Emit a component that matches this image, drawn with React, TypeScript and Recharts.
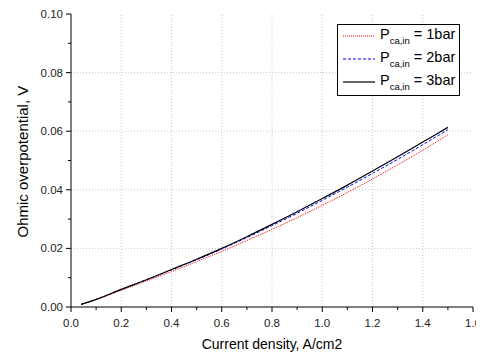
import React from "react";
import { LineChart, Line, XAxis, YAxis, ReferenceLine } from "recharts";

const currentDensity = [0.04, 0.1, 0.2, 0.3, 0.4, 0.5, 0.6, 0.7, 0.8, 0.9, 1.0, 1.1, 1.2, 1.3, 1.4, 1.5];
const p1bar = [0.0009, 0.0025, 0.0057, 0.0089, 0.0121, 0.0155, 0.019, 0.0227, 0.0265, 0.0305, 0.0347, 0.0391, 0.0437, 0.0485, 0.0535, 0.0588];
const p2bar = [0.0009, 0.0026, 0.006, 0.0093, 0.0127, 0.0161, 0.0198, 0.0237, 0.0278, 0.032, 0.0364, 0.0409, 0.0456, 0.0504, 0.0554, 0.0605];
const p3bar = [0.0009, 0.0026, 0.006, 0.0093, 0.0128, 0.0163, 0.02, 0.024, 0.0282, 0.0325, 0.037, 0.0416, 0.0464, 0.0513, 0.0563, 0.0613];

const xTicks = [0, 0.1, 0.2, 0.3, 0.4, 0.5, 0.6, 0.7, 0.8, 0.9, 1.0, 1.1, 1.2, 1.3, 1.4, 1.5, 1.6];
const xMajor = [0.2, 0.4, 0.6, 0.8, 1.0, 1.2, 1.4];
const yTicks = [0, 0.01, 0.02, 0.03, 0.04, 0.05, 0.06, 0.07, 0.08, 0.09, 0.1];
const yMajor = [0.02, 0.04, 0.06, 0.08];

const series = [
  { key: "p1", label: "1bar", color: "#ff0000", dash: "1 1", width: 1 },
  { key: "p2", label: "2bar", color: "#0000ff", dash: "3 2", width: 1 },
  { key: "p3", label: "3bar", color: "#000000", dash: undefined, width: 1.2 },
];

const data = currentDensity.map((x, i) => ({ x, p1: p1bar[i], p2: p2bar[i], p3: p3bar[i] }));

const font = "Arial, 'Liberation Sans', sans-serif";

const isMajor = (v: number, step: number) => Math.abs(Math.round(v / step) * step - v) < 1e-6;

function XTick(props: any) {
  const { x, y, payload } = props;
  const major = isMajor(payload.value, 0.2);
  return (
    <g>
      <line x1={x} x2={x} y1={y} y2={y + (major ? 5 : 3)} stroke="#000" />
      {major && (
        <text x={x} y={y + 20} textAnchor="middle" fontSize={11.5} fill="#222" fontFamily={font}>
          {payload.value.toFixed(1)}
        </text>
      )}
    </g>
  );
}

function YTick(props: any) {
  const { x, y, payload } = props;
  const major = isMajor(payload.value, 0.02);
  return (
    <g>
      <line x1={x} x2={x - (major ? 5 : 3)} y1={y} y2={y} stroke="#000" />
      {major && (
        <text x={x - 8} y={y + 4} textAnchor="end" fontSize={11.5} fill="#222" fontFamily={font}>
          {payload.value.toFixed(2)}
        </text>
      )}
    </g>
  );
}

function TopTick(props: any) {
  const { x, y, payload } = props;
  const major = isMajor(payload.value, 0.2);
  return <line x1={x} x2={x} y1={y} y2={y + (major ? 5 : 3)} stroke="#000" />;
}

function RightTick(props: any) {
  const { x, y, payload } = props;
  const major = isMajor(payload.value, 0.02);
  return <line x1={x} x2={x - (major ? 5 : 3)} y1={y} y2={y} stroke="#000" />;
}

function LegendBox() {
  return (
    <div
      style={{
        position: "absolute",
        left: 329,
        top: 16,
        width: 121,
        height: 70,
        border: "1px solid #000",
        background: "#fff",
        fontFamily: font,
        color: "#000",
      }}
    >
      {series.map((s, i) => (
        <div key={s.key} style={{ position: "absolute", left: 4, top: 1 + i * 23, height: 20, display: "flex", alignItems: "center" }}>
          <svg width={34} height={10}>
            <line x1={1} x2={33} y1={5} y2={5} stroke={s.color} strokeWidth={s.width} strokeDasharray={s.dash} />
          </svg>
          <span style={{ marginLeft: 4, fontSize: 14.5, whiteSpace: "nowrap" }}>
            P<sub style={{ fontSize: 9.5, verticalAlign: -5 }}>ca,in</sub> = {s.label}
          </span>
        </div>
      ))}
    </div>
  );
}

export default function App() {
  return (
    <div style={{ position: "relative", width: 476, height: 350 }}>
      <LineChart width={476} height={350} data={data} margin={{ top: 6, right: 11, bottom: 0, left: 0 }}>
        {xMajor.map((v) => (
          <ReferenceLine key={"gx" + v} xAxisId="bottom" yAxisId="left" x={v} stroke="#c8c8c8" strokeDasharray="1 2" />
        ))}
        {yMajor.map((v) => (
          <ReferenceLine key={"gy" + v} xAxisId="bottom" yAxisId="left" y={v} stroke="#c8c8c8" strokeDasharray="1 2" />
        ))}
        <XAxis
          xAxisId="bottom"
          dataKey="x"
          type="number"
          domain={[0, 1.6]}
          ticks={xTicks}
          interval={0}
          tickLine={false}
          tickSize={0}
          tickMargin={0}
          tick={<XTick />}
          height={51}
          axisLine={{ stroke: "#000" }}
          label={{ value: "Current density, A/cm2", position: "insideBottom", offset: 9, fontSize: 14, fill: "#000", fontFamily: font }}
        />
        <XAxis
          xAxisId="top"
          orientation="top"
          dataKey="x"
          type="number"
          domain={[0, 1.6]}
          ticks={xTicks}
          interval={0}
          tickLine={false}
          tickSize={0}
          tickMargin={0}
          tick={<TopTick />}
          height={0}
          axisLine={{ stroke: "#000" }}
        />
        <YAxis
          yAxisId="left"
          type="number"
          domain={[0, 0.1]}
          ticks={yTicks}
          interval={0}
          tickLine={false}
          tickSize={0}
          tickMargin={0}
          tick={<YTick />}
          width={63}
          axisLine={{ stroke: "#000" }}
          label={{ value: "Ohmic overpotential, V", angle: -90, position: "insideLeft", offset: 15, dy: 77, fontSize: 15, fill: "#000", fontFamily: font }}
        />
        <YAxis
          yAxisId="right"
          orientation="right"
          type="number"
          domain={[0, 0.1]}
          ticks={yTicks}
          interval={0}
          tickLine={false}
          tickSize={0}
          tickMargin={0}
          tick={<RightTick />}
          width={0}
          axisLine={{ stroke: "#000" }}
        />
        {series.map((s) => (
          <Line
            key={s.key}
            xAxisId="bottom"
            yAxisId="left"
            type="monotone"
            dataKey={s.key}
            stroke={s.color}
            strokeWidth={s.width}
            strokeDasharray={s.dash}
            dot={false}
            isAnimationActive={false}
          />
        ))}
      </LineChart>
      <LegendBox />
    </div>
  );
}
